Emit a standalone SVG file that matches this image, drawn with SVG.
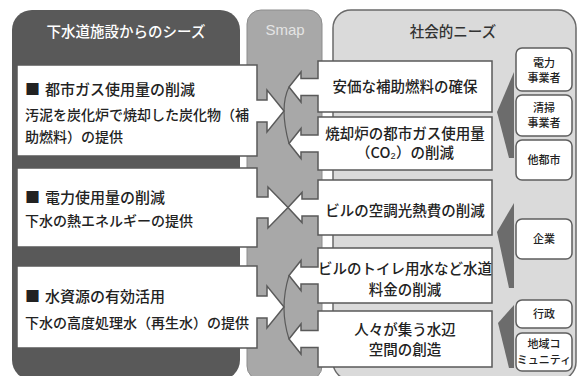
<svg xmlns="http://www.w3.org/2000/svg" width="579" height="376" viewBox="0 0 579 376">
<defs>
<style>
.jp{font-family:"Noto Sans CJK JP","Noto Sans CJK SC",sans-serif;font-weight:500;fill:#222;}
.box{fill:#fff;stroke:#5a5a5a;stroke-width:1.5;stroke-linejoin:miter;}
.sbox{fill:#fff;stroke:#5e5e5e;stroke-width:1.5;}
.conn{fill:none;stroke:#5a5a5a;stroke-width:1.2;}
.lt{font-size:14px;}
.lh{font-size:15px;}
.rt{font-size:14.5px;text-anchor:middle;}
.st{font-size:11px;text-anchor:middle;}
.wedge{fill:#6c6c6c;}
</style>
</defs>
<rect width="579" height="376" fill="#fff"/>
<g id="panel-seeds">
<rect x="12" y="10" width="228" height="370" rx="20" fill="#595959"/>
<text class="jp" x="126" y="37" font-size="14.5" text-anchor="middle" style="fill:#fff">下水道施設からのシーズ</text>
</g>
<g id="panel-smap">
<rect x="247" y="10" width="75" height="370" rx="14" fill="#a8a8a8" stroke="#8c8c8c" stroke-width="1"/>
<text x="285" y="35" font-family="Liberation Sans, Arial, sans-serif" font-size="15" fill="#e4e4e4" text-anchor="middle">Smap</text>
</g>
<g id="panel-needs">
<rect x="333" y="10" width="243" height="370" rx="18" fill="#dadada" stroke="#6a6a6a" stroke-width="1.5"/>
<text class="jp" x="453" y="37" font-size="14.5" text-anchor="middle" style="fill:#333">社会的ニーズ</text>
</g>
<g id="wedges">
<polygon class="wedge" points="514,72 497,112 509,158 514,158"/>
<polygon class="wedge" points="514,203 497,232 509,288 514,288"/>
<polygon class="wedge" points="514,305 498,323 509,368 514,368"/>
</g>
<g id="connectors">
<path class="conn" d="M289,87 Q279,107 289,143.5"/>
<path class="conn" d="M289,275.5 Q279,308 289,339"/>
</g>
<g id="seed1">
<path class="box" d="M17,65 H257 V100 H267 V90 L284,111 L267,132 V122 H257 V156 H17 Z"/>
<text class="jp lh" x="25" y="95">■<tspan dx="5">都市ガス使用量の削減</tspan></text>
<text class="jp lt" x="25" y="120">汚泥を炭化炉で焼却した炭化物（補</text>
<text class="jp lt" x="25" y="142">助燃料）の提供</text>
</g>
<g id="seed2">
<path class="box" d="M17,168 H257 V197 H268 V187 L288,207.5 L268,228 V218 H257 V247 H17 Z"/>
<text class="jp lh" x="25" y="203">■<tspan dx="5">電力使用量の削減</tspan></text>
<text class="jp lt" x="25" y="226">下水の熱エネルギーの提供</text>
</g>
<g id="seed3">
<path class="box" d="M17,266 H257 V296 H267 V286 L284,307 L267,328 V318 H257 V348 H17 Z"/>
<text class="jp lh" x="25" y="302">■<tspan dx="5">水資源の有効活用</tspan></text>
<text class="jp lt" x="25" y="328">下水の高度処理水（再生水）の提供</text>
</g>
<g id="need1">
<path class="box" d="M492,61 V112 H318 V95.5 H301 V102 L289,87 L301,72 V78.5 H318 V61 Z"/>
<text class="jp rt" x="405" y="92" font-size="15">安価な補助燃料の確保</text>
</g>
<g id="need2">
<path class="box" d="M492,117 V170 H318 V152 H301 V158.5 L289,143.5 L301,128.5 V135 H318 V117 Z"/>
<text class="jp rt" x="405" y="139">焼却炉の都市ガス使用量</text>
<text class="jp rt" x="405" y="158">（CO₂）の削減</text>
</g>
<g id="need3">
<path class="box" d="M492,180 V235 H318 V216 H302 V222.5 L288,207.5 L302,192.5 V199 H318 V180 Z"/>
<text class="jp rt" x="405" y="216">ビルの空調光熱費の削減</text>
</g>
<g id="need4">
<path class="box" d="M492,248 V303 H318 V284 H301 V290.5 L289,275.5 L301,260.5 V267 H318 V248 Z"/>
<text class="jp rt" x="405" y="274" font-size="13.5">ビルのトイレ用水など水道</text>
<text class="jp rt" x="405" y="295">料金の削減</text>
</g>
<g id="need5">
<path class="box" d="M492,311 V367 H318 V347.5 H301 V354 L289,339 L301,324 V330.5 H318 V311 Z"/>
<text class="jp rt" x="405" y="335">人々が集う水辺</text>
<text class="jp rt" x="405" y="355">空間の創造</text>
</g>
<g id="actor-power">
<rect class="sbox" x="516" y="48" width="56" height="43" rx="6"/>
<text class="jp st" x="544" y="67">電力</text>
<text class="jp st" x="544" y="82">事業者</text>
</g>
<g id="actor-cleaning">
<rect class="sbox" x="516" y="95" width="56" height="41" rx="6"/>
<text class="jp st" x="544" y="112">清掃</text>
<text class="jp st" x="544" y="127">事業者</text>
</g>
<g id="actor-city">
<rect class="sbox" x="516" y="140" width="56" height="40" rx="6"/>
<text class="jp st" x="544" y="164">他都市</text>
</g>
<g id="actor-company">
<rect class="sbox" x="516" y="219" width="56" height="40" rx="6"/>
<text class="jp st" x="544" y="243">企業</text>
</g>
<g id="actor-admin">
<rect class="sbox" x="516" y="300" width="56" height="28" rx="6"/>
<text class="jp st" x="544" y="318">行政</text>
</g>
<g id="actor-community">
<rect class="sbox" x="516" y="333" width="56" height="38" rx="6"/>
<text class="jp st" x="544" y="348" font-size="9.5">地域コ</text>
<text class="jp st" x="544" y="364" font-size="9.5">ミュニティ</text>
</g>
</svg>
